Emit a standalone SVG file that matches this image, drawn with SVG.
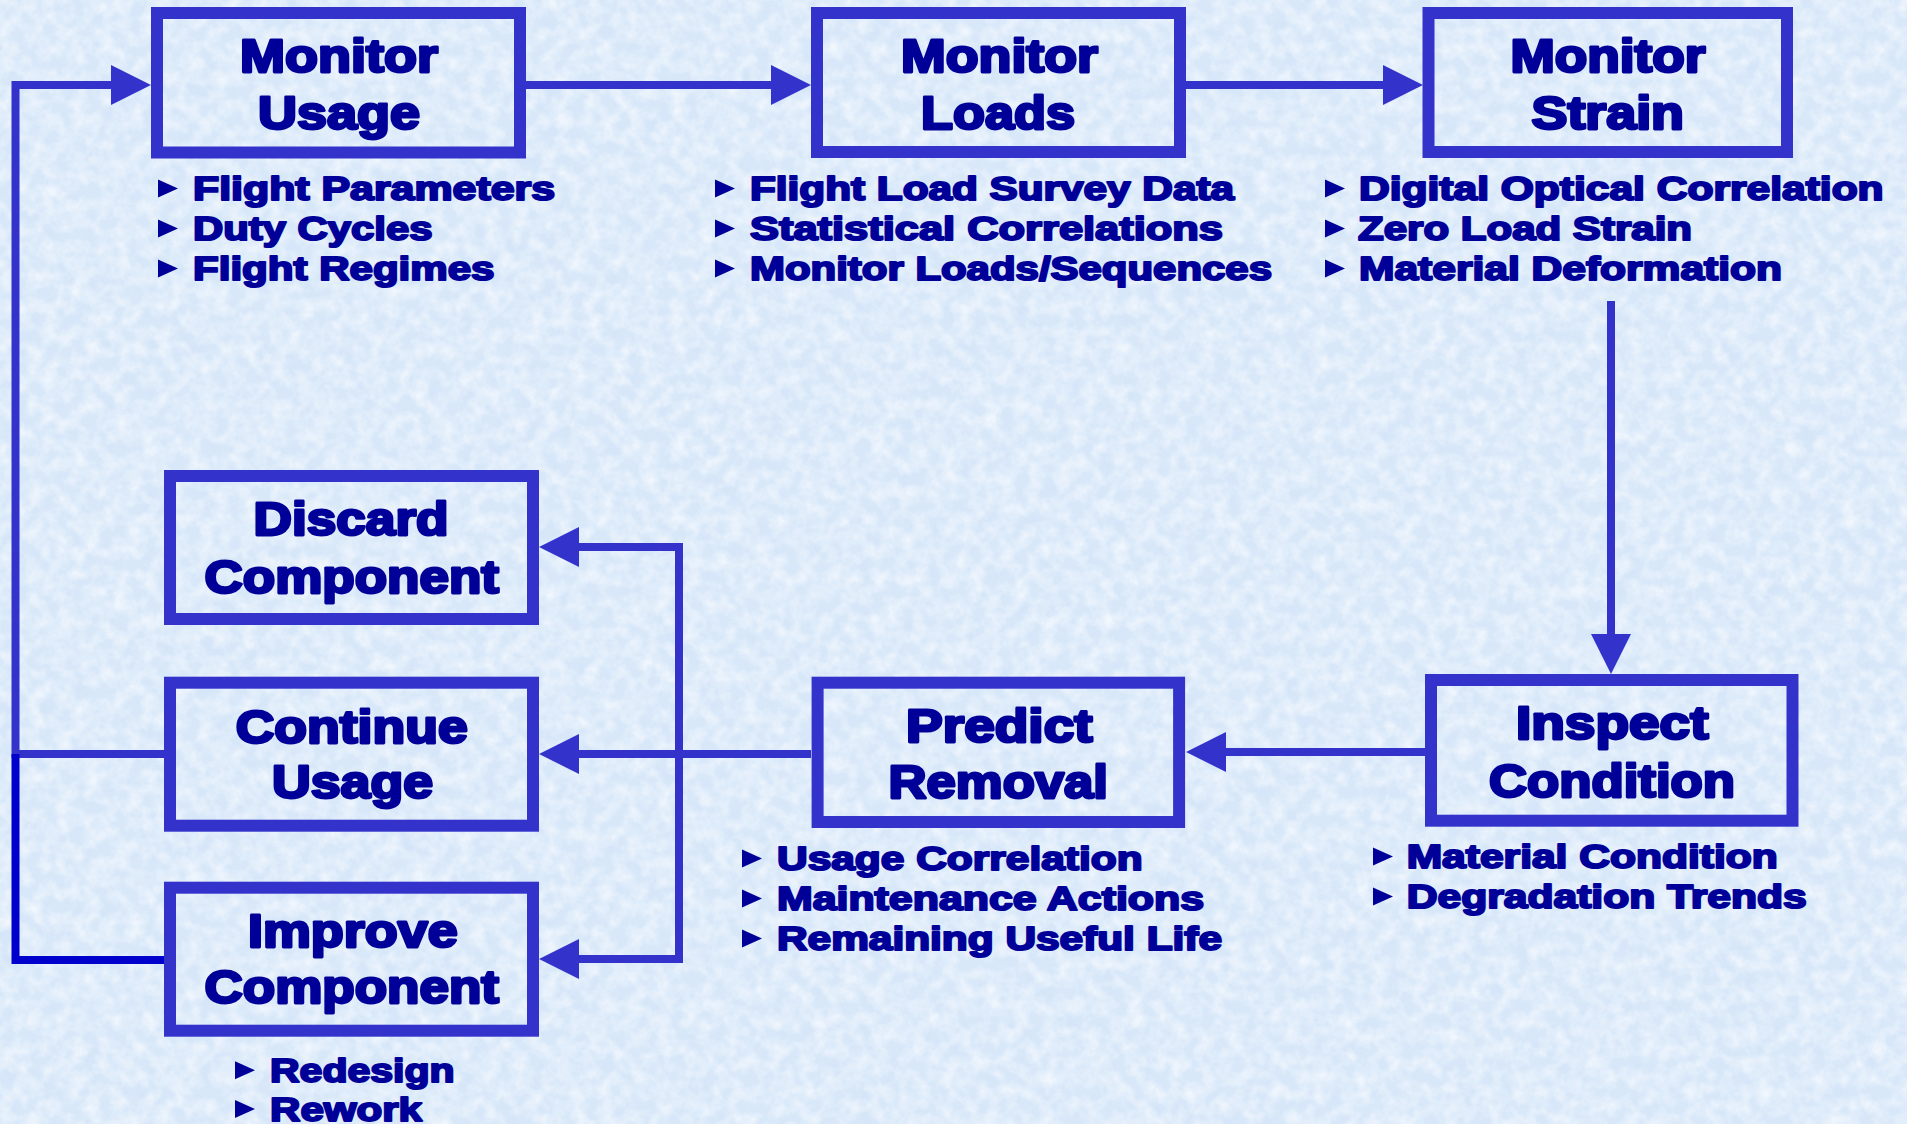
<svg xmlns="http://www.w3.org/2000/svg" width="1907" height="1124" viewBox="0 0 1907 1124">
  <defs>
    <style>
      .box { fill: none; stroke: #3333CC; stroke-width: 12; }
      .title { font-family: "Liberation Sans", Arial, sans-serif; font-weight: bold; font-size: 46px; fill: #000099; stroke: #000099; stroke-width: 2.8; stroke-linejoin: round; }
      .item { font-family: "Liberation Sans", Arial, sans-serif; font-weight: bold; font-size: 33px; fill: #000099; stroke: #000099; stroke-width: 2; stroke-linejoin: round; }
      .bullet { fill: #000099; }
      .wire { fill: none; stroke: #3333CC; stroke-width: 8; }
      .wire-dark { fill: none; stroke: #0000CC; stroke-width: 8; }
    </style>
    <marker id="head" viewBox="0 0 40 40" markerUnits="userSpaceOnUse" markerWidth="40" markerHeight="40" refX="0" refY="20" orient="auto">
      <path d="M0,0 L40,20 L0,40 Z" fill="#3333CC"/>
    </marker>
    <polygon id="tri" points="0,-20.5 20,-11.5 0,-2.5" class="bullet"/>
    <filter id="grain" x="0" y="0" width="100%" height="100%">
      <feTurbulence type="fractalNoise" baseFrequency="0.07" numOctaves="3" seed="7"/>
      <feColorMatrix type="matrix" values="0 0 0 0 0.97  0 0 0 0 0.98  0 0 0 0 1  1.6 0 0 0 -0.55"/>
    </filter>
    <filter id="grain2" x="0" y="0" width="100%" height="100%">
      <feTurbulence type="fractalNoise" baseFrequency="0.05" numOctaves="2" seed="21"/>
      <feColorMatrix type="matrix" values="0 0 0 0 0.62  0 0 0 0 0.74  0 0 0 0 0.93  0 1.4 0 0 -0.62"/>
    </filter>
  </defs>

  <!-- paper background -->
  <rect width="1907" height="1124" fill="#D8E8F9"/>
  <rect width="1907" height="1124" filter="url(#grain2)" opacity="0.5"/>
  <rect width="1907" height="1124" filter="url(#grain)" opacity="0.8"/>

  <!-- connectors -->
  <g id="connectors">
    <path class="wire" d="M526,85 H771" marker-end="url(#head)"/>
    <path class="wire" d="M1186,85 H1383" marker-end="url(#head)"/>
    <path class="wire" d="M1611,301 V634" marker-end="url(#head)"/>
    <path class="wire" d="M1425,752 H1226" marker-end="url(#head)"/>
    <path class="wire" d="M811,754 H579" marker-end="url(#head)"/>
    <path class="wire" d="M679,754 V547 H579" marker-end="url(#head)"/>
    <path class="wire" d="M679,754 V959 H579" marker-end="url(#head)"/>
    <path class="wire" d="M164,754 H15.5 V85 H111" marker-end="url(#head)"/>
    <path class="wire-dark" d="M168,960 H15.5 V754"/>
  </g>

  <!-- Monitor Usage -->
  <g id="monitor-usage">
    <rect class="box" x="157" y="13" width="363" height="139.5"/>
    <text class="title" x="240" y="72" textLength="198" lengthAdjust="spacingAndGlyphs">Monitor</text>
    <text class="title" x="258" y="129" textLength="162" lengthAdjust="spacingAndGlyphs">Usage</text>
    <use href="#tri" x="158" y="200"/>
    <use href="#tri" x="158" y="240"/>
    <use href="#tri" x="158" y="280"/>
    <text class="item" x="193" y="200" textLength="362" lengthAdjust="spacingAndGlyphs">Flight Parameters</text>
    <text class="item" x="193" y="240" textLength="239.5" lengthAdjust="spacingAndGlyphs">Duty Cycles</text>
    <text class="item" x="193" y="280" textLength="301.5" lengthAdjust="spacingAndGlyphs">Flight Regimes</text>
  </g>

  <!-- Monitor Loads -->
  <g id="monitor-loads">
    <rect class="box" x="817" y="13" width="363" height="139"/>
    <text class="title" x="901" y="72" textLength="197" lengthAdjust="spacingAndGlyphs">Monitor</text>
    <text class="title" x="921" y="129" textLength="154" lengthAdjust="spacingAndGlyphs">Loads</text>
    <use href="#tri" x="715" y="200"/>
    <use href="#tri" x="715" y="240"/>
    <use href="#tri" x="715" y="280"/>
    <text class="item" x="750" y="200" textLength="484" lengthAdjust="spacingAndGlyphs">Flight Load Survey Data</text>
    <text class="item" x="750" y="240" textLength="473" lengthAdjust="spacingAndGlyphs">Statistical Correlations</text>
    <text class="item" x="750" y="280" textLength="522" lengthAdjust="spacingAndGlyphs">Monitor Loads/Sequences</text>
  </g>

  <!-- Monitor Strain -->
  <g id="monitor-strain">
    <rect class="box" x="1428.5" y="13" width="358.5" height="139"/>
    <text class="title" x="1510.5" y="72" textLength="195" lengthAdjust="spacingAndGlyphs">Monitor</text>
    <text class="title" x="1531.5" y="129" textLength="152.5" lengthAdjust="spacingAndGlyphs">Strain</text>
    <use href="#tri" x="1325" y="200"/>
    <use href="#tri" x="1325" y="240"/>
    <use href="#tri" x="1325" y="280"/>
    <text class="item" x="1359" y="200" textLength="524.6" lengthAdjust="spacingAndGlyphs">Digital Optical Correlation</text>
    <text class="item" x="1358" y="240" textLength="334" lengthAdjust="spacingAndGlyphs">Zero Load Strain</text>
    <text class="item" x="1359" y="280" textLength="423" lengthAdjust="spacingAndGlyphs">Material Deformation</text>
  </g>

  <!-- Inspect Condition -->
  <g id="inspect-condition">
    <rect class="box" x="1431" y="680" width="361.5" height="140.7"/>
    <text class="title" x="1516" y="739" textLength="192.5" lengthAdjust="spacingAndGlyphs">Inspect</text>
    <text class="title" x="1489" y="796.7" textLength="246" lengthAdjust="spacingAndGlyphs">Condition</text>
    <use href="#tri" x="1373" y="868"/>
    <use href="#tri" x="1373" y="908"/>
    <text class="item" x="1406.7" y="868" textLength="371" lengthAdjust="spacingAndGlyphs">Material Condition</text>
    <text class="item" x="1406.7" y="908" textLength="400" lengthAdjust="spacingAndGlyphs">Degradation Trends</text>
  </g>

  <!-- Predict Removal -->
  <g id="predict-removal">
    <rect class="box" x="817.6" y="682.7" width="361.5" height="139.3"/>
    <text class="title" x="906" y="741.7" textLength="186.6" lengthAdjust="spacingAndGlyphs">Predict</text>
    <text class="title" x="888.6" y="798" textLength="219.4" lengthAdjust="spacingAndGlyphs">Removal</text>
    <use href="#tri" x="742" y="870"/>
    <use href="#tri" x="742" y="910"/>
    <use href="#tri" x="742" y="950"/>
    <text class="item" x="777" y="870" textLength="365.6" lengthAdjust="spacingAndGlyphs">Usage Correlation</text>
    <text class="item" x="777" y="910" textLength="427" lengthAdjust="spacingAndGlyphs">Maintenance Actions</text>
    <text class="item" x="777" y="950" textLength="445" lengthAdjust="spacingAndGlyphs">Remaining Useful Life</text>
  </g>

  <!-- Discard Component -->
  <g id="discard-component">
    <rect class="box" x="170" y="476" width="363" height="143"/>
    <text class="title" x="253.6" y="535" textLength="195" lengthAdjust="spacingAndGlyphs">Discard</text>
    <text class="title" x="204.5" y="593" textLength="294.5" lengthAdjust="spacingAndGlyphs">Component</text>
  </g>

  <!-- Continue Usage -->
  <g id="continue-usage">
    <rect class="box" x="170" y="682.7" width="363" height="143"/>
    <text class="title" x="235.7" y="743" textLength="232" lengthAdjust="spacingAndGlyphs">Continue</text>
    <text class="title" x="272" y="798" textLength="161" lengthAdjust="spacingAndGlyphs">Usage</text>
  </g>

  <!-- Improve Component -->
  <g id="improve-component">
    <rect class="box" x="170" y="887.7" width="363" height="143"/>
    <text class="title" x="248" y="946.7" textLength="209.6" lengthAdjust="spacingAndGlyphs">Improve</text>
    <text class="title" x="204.5" y="1003" textLength="294.5" lengthAdjust="spacingAndGlyphs">Component</text>
    <use href="#tri" x="235" y="1081.7"/>
    <use href="#tri" x="235" y="1120.5"/>
    <text class="item" x="270" y="1081.7" textLength="184.5" lengthAdjust="spacingAndGlyphs">Redesign</text>
    <text class="item" x="270" y="1120.5" textLength="152" lengthAdjust="spacingAndGlyphs">Rework</text>
  </g>
</svg>
